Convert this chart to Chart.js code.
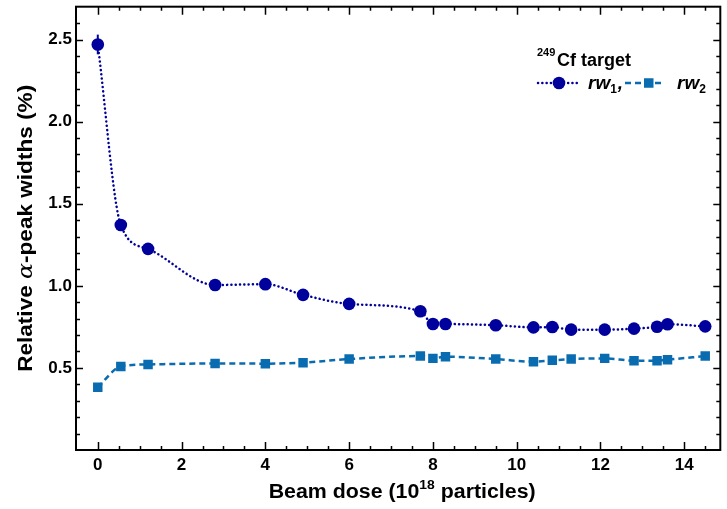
<!DOCTYPE html>
<html>
<head>
<meta charset="utf-8">
<script src="https://cdn.jsdelivr.net/npm/chart.js@4.4.1/dist/chart.umd.min.js"></script>
<style>
  html, body { margin: 0; padding: 0; background: #fff; }
</style>
</head>
<body>
<canvas id="doseChart" width="727" height="509"></canvas>
<script>
// values
const doseValues = [0, 0.55, 1.2, 2.8, 4.0, 4.9, 6.0, 7.7, 8.0, 8.3, 9.5, 10.4, 10.85, 11.3, 12.1, 12.8, 13.35, 13.6, 14.5];
const rw1Values = [2.47, 1.37, 1.225, 1.005, 1.01, 0.945, 0.89, 0.845, 0.767, 0.767, 0.76, 0.747, 0.749, 0.733, 0.733, 0.739, 0.751, 0.766, 0.753];
const rw1Errors = [0.06, 0, 0, 0, 0, 0, 0, 0, 0, 0, 0, 0, 0, 0, 0, 0, 0, 0, 0];
const rw2Values = [0.382, 0.509, 0.521, 0.527, 0.526, 0.532, 0.554, 0.572, 0.558, 0.568, 0.554, 0.538, 0.546, 0.554, 0.558, 0.544, 0.544, 0.55, 0.572];
const xTickValues = [0, 2, 4, 6, 8, 10, 12, 14];
const yTickValues = [0, 0.5, 1.0, 1.5, 2.0, 2.5];
const xMinorStep = 0.5;
const yMinorStep = 0.1;

const rw1Color = "#00009c";
const rw2Color = "#0a6cb0";
const fontName = "'Liberation Sans', Arial, Helvetica, sans-serif";

// write a list of [text, font, dy] parts stretched to a given total width
function drawParts(ctx, parts, x, y, targetWidth) {
    let w = 0;
    parts.forEach((p) => { ctx.font = p[1]; w += ctx.measureText(p[0]).width; });
    const sx = targetWidth / w;
    ctx.save();
    ctx.translate(x - targetWidth / 2, y);
    ctx.scale(sx, 1);
    let cx = 0;
    parts.forEach((p) => {
        ctx.font = p[1];
        ctx.fillText(p[0], cx, p[2] || 0);
        cx += ctx.measureText(p[0]).width;
    });
    ctx.restore();
}

// frame, inward ticks, error bars, titles and the legend box
const framePlugin = {
    id: "framePlugin",
    beforeDatasetsDraw(chart) {
        const { ctx, scales: { x, y } } = chart;
        ctx.save();
        ctx.strokeStyle = rw1Color;
        ctx.lineWidth = 2;
        doseValues.forEach((d, i) => {
            const e = rw1Errors[i];
            if (!e) return;
            const px = x.getPixelForValue(d);
            ctx.beginPath();
            ctx.moveTo(px, y.getPixelForValue(rw1Values[i] - e));
            ctx.lineTo(px, y.getPixelForValue(rw1Values[i] + e));
            ctx.stroke();
        });
        ctx.restore();
    },
    afterDraw(chart) {
        const { ctx, chartArea: a, scales: { x, y } } = chart;
        ctx.save();
        ctx.strokeStyle = "#000";
        ctx.lineWidth = 2;
        ctx.strokeRect(a.left, a.top, a.right - a.left, a.bottom - a.top);

        // x ticks (bottom and top)
        ctx.lineWidth = 1.5;
        for (let v = 0; v <= x.max + 1e-9; v += xMinorStep) {
            const major = xTickValues.some((t) => Math.abs(t - v) < 1e-6);
            const len = major ? 8 : 4;
            const px = Math.round(x.getPixelForValue(v)) + 0.5;
            ctx.beginPath();
            ctx.moveTo(px, a.bottom);
            ctx.lineTo(px, a.bottom - len);
            ctx.moveTo(px, a.top);
            ctx.lineTo(px, a.top + len);
            ctx.stroke();
        }
        // y ticks (left and right)
        for (let k = 1; k * yMinorStep < y.max; k++) {
            const v = k * yMinorStep;
            const major = yTickValues.some((t) => Math.abs(t - v) < 1e-6);
            const len = major ? 7 : 4;
            const py = Math.round(y.getPixelForValue(v)) + 0.5;
            ctx.beginPath();
            ctx.moveTo(a.left, py);
            ctx.lineTo(a.left + len, py);
            ctx.moveTo(a.right, py);
            ctx.lineTo(a.right - len, py);
            ctx.stroke();
        }

        ctx.fillStyle = "#000";
        ctx.textBaseline = "alphabetic";
        const big = "bold 20px " + fontName;
        const small = "bold 13px " + fontName;

        // x axis title
        drawParts(ctx, [
            ["Beam dose (10", big],
            ["18", small, -9],
            [" particles)", big],
        ], (a.left + a.right) / 2 + 4, 498, 267);

        // y axis title, rotated
        ctx.save();
        ctx.translate(32, (a.top + a.bottom) / 2);
        ctx.rotate(-Math.PI / 2);
        drawParts(ctx, [
            ["Relative ", big],
            ["\u03b1", "italic 21px 'DejaVu Serif', serif"],
            ["-peak widths (%)", big],
        ], 0, 0, 287);
        ctx.restore();

        // legend
        ctx.font = "bold 11px " + fontName;
        ctx.fillText("249", 537, 56);
        ctx.font = "bold 18px " + fontName;
        ctx.fillText("Cf target", 557, 66);

        const ly = 83;
        ctx.lineWidth = 2.5;
        ctx.lineCap = "round";
        ctx.strokeStyle = rw1Color;
        ctx.setLineDash([0.1, 4.2]);
        ctx.beginPath(); ctx.moveTo(538, ly); ctx.lineTo(578, ly); ctx.stroke();
        ctx.setLineDash([]);
        ctx.fillStyle = rw1Color;
        ctx.beginPath(); ctx.arc(559, ly, 6.3, 0, Math.PI * 2); ctx.fill();

        ctx.lineCap = "butt";
        ctx.strokeStyle = rw2Color;
        ctx.setLineDash([6, 4]);
        ctx.beginPath(); ctx.moveTo(625, ly); ctx.lineTo(664, ly); ctx.stroke();
        ctx.setLineDash([]);
        ctx.fillStyle = rw2Color;
        ctx.fillRect(644, ly - 4.75, 9.5, 9.5);

        ctx.fillStyle = "#000";
        const it = "italic bold 19px " + fontName;
        const sub = "bold 12px " + fontName;
        ctx.font = it; ctx.fillText("rw", 588, 89);
        let sx = 588 + ctx.measureText("rw").width;
        ctx.font = sub; ctx.fillText("1", sx, 93);
        sx += ctx.measureText("1").width;
        ctx.font = it; ctx.fillText(",", sx + 1, 89);
        ctx.fillText("rw", 677, 89);
        sx = 677 + ctx.measureText("rw").width;
        ctx.font = sub; ctx.fillText("2", sx, 93);
        ctx.restore();
    },
};

const ctx = document.getElementById("doseChart").getContext("2d");
new Chart(ctx, {
    type: "line",
    data: {
        labels: doseValues,
        datasets: [
            {
                label: "rw1",
                data: doseValues.map((d, i) => ({ x: d, y: rw1Values[i] })),
                borderColor: rw1Color,
                backgroundColor: rw1Color,
                borderWidth: 2.5,
                borderDash: [0.1, 4.2],
                borderCapStyle: "round",
                cubicInterpolationMode: "monotone",
                pointStyle: "circle",
                pointRadius: 6.3,
                pointBorderWidth: 0,
                fill: false,
            },
            {
                label: "rw2",
                data: doseValues.map((d, i) => ({ x: d, y: rw2Values[i] })),
                borderColor: rw2Color,
                backgroundColor: rw2Color,
                borderWidth: 2.5,
                borderDash: [6, 4],
                cubicInterpolationMode: "monotone",
                pointStyle: "rect",
                pointRadius: 6.7,
                pointBorderWidth: 0,
                fill: false,
            },
        ],
    },
    options: {
        responsive: false,
        animation: false,
        devicePixelRatio: 1,
        layout: { padding: { top: 2, right: 6, left: 0, bottom: 0 } },
        plugins: {
            legend: { display: false },
            tooltip: { enabled: false },
        },
        scales: {
            x: {
                type: "linear",
                min: -0.52,
                max: 14.86,
                grid: { display: false, drawTicks: false },
                border: { display: false },
                afterBuildTicks: (scale) => {
                    scale.ticks = xTickValues.map((v) => ({ value: v }));
                },
                afterFit: (scale) => {
                    scale.height = 59;
                    scale.paddingLeft = 0;
                    scale.paddingRight = 0;
                },
                ticks: {
                    padding: 5,
                    color: "#000",
                    font: { family: fontName, size: 17, weight: "bold" },
                    callback: (v) => String(v),
                },
                title: { display: false },
            },
            y: {
                min: 0,
                max: 2.7,
                grid: { display: false, drawTicks: false },
                border: { display: false },
                afterBuildTicks: (scale) => {
                    scale.ticks = yTickValues.map((v) => ({ value: v }));
                },
                afterFit: (scale) => {
                    scale.width = 76;
                    scale.paddingTop = 0;
                    scale.paddingBottom = 0;
                },
                ticks: {
                    padding: 4,
                    color: "#000",
                    font: { family: fontName, size: 17, weight: "bold" },
                    callback: (v) => (v === 0 ? "" : v.toFixed(1)),
                },
                title: { display: false },
            },
        },
    },
    plugins: [framePlugin],
});
</script>
</body>
</html>
